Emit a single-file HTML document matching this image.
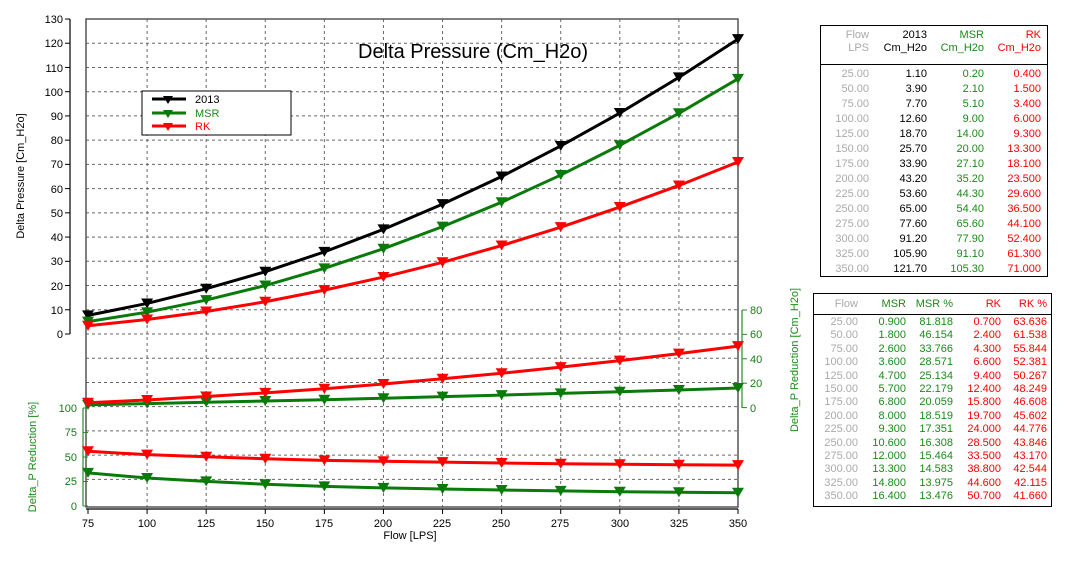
<!DOCTYPE html>
<html><head><meta charset="utf-8"><style>
body{margin:0;background:#fff;width:1080px;height:572px;overflow:hidden;font-family:"Liberation Sans",sans-serif;}
svg{position:absolute;left:0;top:0}
.t{position:absolute;font-size:11px;border:1px solid #000;background:#fff}
.t div{position:absolute;text-align:right;white-space:nowrap;line-height:13px}
</style></head><body>
<svg id="s" width="1080" height="572" font-family="Liberation Sans, sans-serif">
<g id="grid" stroke="#666" stroke-dasharray="3,3" stroke-width="1"></g>
<rect x="86" y="19" width="652" height="488" fill="none" stroke="#555" stroke-width="1.5"/>
<line x1="86" y1="509" x2="738" y2="509" stroke="#000" stroke-width="1.2"/>
<line x1="70" y1="19" x2="70" y2="334" stroke="#000" stroke-width="1.2"/>
<line x1="83" y1="408" x2="83" y2="506" stroke="#2a8a2a" stroke-width="1.2"/>
<line x1="742" y1="310" x2="742" y2="408" stroke="#2a8a2a" stroke-width="1.2"/>
<g id="ticks"></g>
<g font-size="11" text-anchor="end" fill="#000">
<text x="63" y="23">130</text><text x="63" y="47">120</text><text x="63" y="72">110</text><text x="63" y="96">100</text><text x="63" y="120">90</text><text x="63" y="144">80</text><text x="63" y="168">70</text><text x="63" y="193">60</text><text x="63" y="217">50</text><text x="63" y="241">40</text><text x="63" y="265">30</text><text x="63" y="290">20</text><text x="63" y="314">10</text><text x="63" y="338">0</text>
</g>
<g font-size="11" text-anchor="end" fill="#1a7a1a">
<text x="77" y="412">100</text><text x="77" y="436">75</text><text x="77" y="461">50</text><text x="77" y="485">25</text><text x="77" y="510">0</text>
</g>
<g font-size="11" text-anchor="start" fill="#1a7a1a">
<text x="750" y="314">80</text><text x="750" y="338">60</text><text x="750" y="363">40</text><text x="750" y="387">20</text><text x="750" y="412">0</text>
</g>
<g font-size="11" text-anchor="middle" fill="#000">
<text x="88" y="527">75</text><text x="147" y="527">100</text><text x="206" y="527">125</text><text x="265" y="527">150</text><text x="324" y="527">175</text><text x="383" y="527">200</text><text x="442" y="527">225</text><text x="501" y="527">250</text><text x="560" y="527">275</text><text x="620" y="527">300</text><text x="679" y="527">325</text><text x="738" y="527">350</text>
<text x="410" y="539">Flow [LPS]</text>
</g>
<text transform="translate(24,176) rotate(-90)" font-size="11" text-anchor="middle">Delta Pressure [Cm_H2o]</text>
<text transform="translate(36,457) rotate(-90)" font-size="11" text-anchor="middle" fill="#1a8a1a">Delta_P Reduction [%]</text>
<text transform="translate(798,360) rotate(-90)" font-size="11" text-anchor="middle" fill="#1a8a1a">Delta_P Reduction [Cm_H2o]</text>
<text x="358" y="58" font-size="20">Delta Pressure (Cm_H2o)</text>
<g id="ser"></g>
<rect x="142" y="91" width="149" height="44" fill="#fff" stroke="#000"/>
<g stroke-width="3"><line x1="152" y1="99" x2="186" y2="99" stroke="#000"/><line x1="152" y1="113" x2="186" y2="113" stroke="#0a7a0a"/><line x1="152" y1="126" x2="186" y2="126" stroke="#f00"/></g>
<path d="M163 96h10l-5 8z" fill="#000"/><path d="M163 110h10l-5 8z" fill="#0a7a0a"/><path d="M163 123h10l-5 8z" fill="#f00"/>
<g font-size="11"><text x="195" y="103">2013</text><text x="195" y="117" fill="#1a8a1a">MSR</text><text x="195" y="130" fill="#f00">RK</text></g>
</svg>
<script>
(function(){
var ns="http://www.w3.org/2000/svg",s=document.getElementById('ser'),g=document.getElementById('grid'),tk=document.getElementById('ticks');
function el(p,t,a){var e=document.createElementNS(ns,t);for(var k in a)e.setAttribute(k,a[k]);p.appendChild(e);return e;}
function X(i){return 88+i*59.09;}
for(var i=1;i<11;i++)el(g,'line',{x1:X(i),y1:19,x2:X(i),y2:507});
for(var j=1;j<20;j++){var y=19+j*24.23;el(g,'line',{x1:86,y1:y,x2:738,y2:y});}
for(var j=0;j<=13;j++){var y=19+j*24.23;el(tk,'line',{x1:65,y1:y,x2:70,y2:y,stroke:'#000'});}
for(var j=0;j<=4;j++){var y=408+j*24.5;el(tk,'line',{x1:83,y1:y,x2:88,y2:y,stroke:'#2a8a2a'});}
for(var j=0;j<=4;j++){var y=310+j*24.4;el(tk,'line',{x1:742,y1:y,x2:747,y2:y,stroke:'#2a8a2a'});}
for(var i=0;i<12;i++)el(tk,'line',{x1:X(i),y1:509,x2:X(i),y2:514,stroke:'#000'});
function ser(d,f,c){var p=[];d.forEach(function(v,i){p.push(X(i)+','+f(v));});
el(s,'polyline',{points:p.join(' '),fill:'none',stroke:c,'stroke-width':3});
d.forEach(function(v,i){var x=X(i),y=f(v);el(s,'path',{d:'M'+(x-6)+' '+(y-5)+'h12l-6 10z',fill:c});});}
var ft=function(v){return 334-v*2.423},fr=function(v){return 408-v*1.22},fb=function(v){return 506-v*0.98};
ser([7.7,12.6,18.7,25.7,33.9,43.2,53.6,65,77.6,91.2,105.9,121.7],ft,'#000');
ser([5.1,9,14,20,27.1,35.2,44.3,54.4,65.6,77.9,91.1,105.3],ft,'#0a7a0a');
ser([3.4,6,9.3,13.3,18.1,23.5,29.6,36.5,44.1,52.4,61.3,71],ft,'#f00');
ser([2.6,3.6,4.7,5.7,6.8,8,9.3,10.6,12,13.3,14.8,16.4],fr,'#0a7a0a');
ser([4.3,6.6,9.4,12.4,15.8,19.7,24,28.5,33.5,38.8,44.6,50.7],fr,'#f00');
ser([33.766,28.571,25.134,22.179,20.059,18.519,17.351,16.308,15.464,14.583,13.975,13.476],fb,'#0a7a0a');
ser([55.844,52.381,50.267,48.249,46.608,45.602,44.776,43.846,43.17,42.544,42.115,41.66],fb,'#f00');
})();
</script>
<div class="t" style="left:820px;top:25px;width:226px;height:250px">
<div style="left:0;top:0;width:226px;height:38px;border-bottom:1px solid #000"></div>
<div style="right:178px;top:3px;color:#aaa">Flow<br>LPS</div>
<div style="right:120px;top:3px">2013<br>Cm_H2o</div>
<div style="right:63px;top:3px;color:#1a8a1a">MSR<br>Cm_H2o</div>
<div style="right:6px;top:3px;color:#f00">RK<br>Cm_H2o</div>
<div style="right:178px;top:41px;color:#aaa;line-height:15px">25.00<br>50.00<br>75.00<br>100.00<br>125.00<br>150.00<br>175.00<br>200.00<br>225.00<br>250.00<br>275.00<br>300.00<br>325.00<br>350.00</div>
<div style="right:120px;top:41px;line-height:15px">1.10<br>3.90<br>7.70<br>12.60<br>18.70<br>25.70<br>33.90<br>43.20<br>53.60<br>65.00<br>77.60<br>91.20<br>105.90<br>121.70</div>
<div style="right:63px;top:41px;color:#1a8a1a;line-height:15px">0.20<br>2.10<br>5.10<br>9.00<br>14.00<br>20.00<br>27.10<br>35.20<br>44.30<br>54.40<br>65.60<br>77.90<br>91.10<br>105.30</div>
<div style="right:6px;top:41px;color:#f00;line-height:15px">0.400<br>1.500<br>3.400<br>6.000<br>9.300<br>13.300<br>18.100<br>23.500<br>29.600<br>36.500<br>44.100<br>52.400<br>61.300<br>71.000</div>
</div>
<div class="t" style="left:813px;top:293px;width:237px;height:212px">
<div style="left:0;top:0;width:237px;height:20px;border-bottom:1px solid #000"></div>
<div style="right:193px;top:4px;color:#aaa">Flow</div>
<div style="right:145px;top:4px;color:#1a8a1a">MSR</div>
<div style="right:98px;top:4px;color:#1a8a1a">MSR %</div>
<div style="right:50px;top:4px;color:#f00">RK</div>
<div style="right:4px;top:4px;color:#f00">RK %</div>
<div style="right:193px;top:22px;color:#aaa;line-height:13.4px">25.00<br>50.00<br>75.00<br>100.00<br>125.00<br>150.00<br>175.00<br>200.00<br>225.00<br>250.00<br>275.00<br>300.00<br>325.00<br>350.00</div>
<div style="right:145px;top:22px;color:#1a8a1a;line-height:13.4px">0.900<br>1.800<br>2.600<br>3.600<br>4.700<br>5.700<br>6.800<br>8.000<br>9.300<br>10.600<br>12.000<br>13.300<br>14.800<br>16.400</div>
<div style="right:98px;top:22px;color:#1a8a1a;line-height:13.4px">81.818<br>46.154<br>33.766<br>28.571<br>25.134<br>22.179<br>20.059<br>18.519<br>17.351<br>16.308<br>15.464<br>14.583<br>13.975<br>13.476</div>
<div style="right:50px;top:22px;color:#f00;line-height:13.4px">0.700<br>2.400<br>4.300<br>6.600<br>9.400<br>12.400<br>15.800<br>19.700<br>24.000<br>28.500<br>33.500<br>38.800<br>44.600<br>50.700</div>
<div style="right:4px;top:22px;color:#f00;line-height:13.4px">63.636<br>61.538<br>55.844<br>52.381<br>50.267<br>48.249<br>46.608<br>45.602<br>44.776<br>43.846<br>43.170<br>42.544<br>42.115<br>41.660</div>
</div>
</body></html>
